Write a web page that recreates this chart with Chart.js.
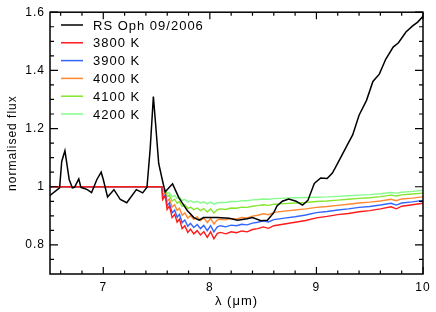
<!DOCTYPE html>
<html>
<head>
<meta charset="utf-8">
<script src="https://cdn.jsdelivr.net/npm/chart.js@4"></script>
<style>
  html, body { margin: 0; padding: 0; background: #fff; }
  canvas { display: block; }
</style>
</head>
<body>
<canvas id="fluxChart" width="436" height="312"></canvas>
<script>
// observed spectrum, RS Oph 09/2006
const obsX = [6.50, 6.59, 6.61, 6.64, 6.68, 6.71, 6.73, 6.77, 6.79, 6.85, 6.89, 6.94, 6.98, 7.00, 7.04, 7.10, 7.16, 7.22,
  7.31, 7.37, 7.41, 7.44, 7.47, 7.49, 7.52, 7.55, 7.58, 7.65, 7.71, 7.79, 7.85, 7.90, 7.94, 8.07, 8.18, 8.26, 8.35,
  8.40, 8.48, 8.54, 8.60, 8.63, 8.68, 8.74, 8.81, 8.87, 8.92, 8.98, 9.04, 9.10, 9.15, 9.20, 9.29, 9.34, 9.40, 9.47,
  9.53, 9.59, 9.65, 9.72, 9.77, 9.84, 9.90, 9.95, 10.0];
const obsY = [0.970, 0.996, 1.087, 1.124, 1.025, 0.996, 0.998, 1.027, 0.998, 0.990, 0.980, 1.025, 1.050, 1.025, 0.965,
  0.990, 0.956, 0.945, 0.990, 0.979, 0.998, 1.130, 1.310, 1.220, 1.080, 1.030, 0.982, 1.010, 0.962, 0.917, 0.894,
  0.885, 0.894, 0.894, 0.892, 0.885, 0.890, 0.894, 0.883, 0.885, 0.911, 0.934, 0.950, 0.958, 0.950, 0.937, 0.953,
  1.011, 1.030, 1.028, 1.047, 1.081, 1.144, 1.178, 1.246, 1.297, 1.362, 1.387, 1.438, 1.480, 1.495, 1.532, 1.552,
  1.566, 1.586];

// model wavelength grid (shared by all models)
const modelX = [6.5, 7.55, 7.557, 7.583, 7.599, 7.62, 7.646, 7.67, 7.693, 7.715, 7.74, 7.765, 7.793, 7.818, 7.849,
  7.881, 7.912, 7.943, 7.976, 8.007, 8.038, 8.07, 8.1, 8.15, 8.2, 8.25, 8.3, 8.35, 8.4, 8.45, 8.5, 8.55, 8.6, 8.7,
  8.8, 8.9, 9.0, 9.1, 9.2, 9.3, 9.4, 9.5, 9.6, 9.7, 9.75, 9.8, 9.9, 10.0];

const model3800 = [1, 1, 0.956, 0.968, 0.922, 0.934, 0.894, 0.905, 0.878, 0.889, 0.856, 0.866, 0.843, 0.854, 0.838,
  0.849, 0.834, 0.846, 0.826, 0.845, 0.821, 0.840, 0.843, 0.838, 0.845, 0.842, 0.848, 0.845, 0.853, 0.856, 0.862,
  0.857, 0.866, 0.872, 0.878, 0.884, 0.893, 0.898, 0.904, 0.908, 0.914, 0.918, 0.924, 0.931, 0.924, 0.933, 0.938, 0.943];
const model3900 = [1, 1, 0.963, 0.973, 0.935, 0.945, 0.910, 0.920, 0.895, 0.905, 0.876, 0.886, 0.864, 0.874, 0.860,
  0.870, 0.856, 0.867, 0.849, 0.866, 0.845, 0.862, 0.866, 0.862, 0.868, 0.866, 0.871, 0.869, 0.875, 0.878, 0.883,
  0.879, 0.887, 0.892, 0.897, 0.903, 0.911, 0.915, 0.920, 0.924, 0.929, 0.932, 0.937, 0.943, 0.937, 0.944, 0.948, 0.953];
const model4000 = [1, 1, 0.972, 0.980, 0.950, 0.958, 0.930, 0.938, 0.918, 0.926, 0.902, 0.910, 0.892, 0.900, 0.888,
  0.896, 0.884, 0.893, 0.877, 0.891, 0.872, 0.886, 0.888, 0.886, 0.891, 0.889, 0.894, 0.893, 0.899, 0.902, 0.907,
  0.904, 0.912, 0.916, 0.920, 0.924, 0.929, 0.932, 0.936, 0.940, 0.944, 0.947, 0.951, 0.957, 0.952, 0.958, 0.961, 0.965];
const model4100 = [1, 1, 0.982, 0.988, 0.965, 0.971, 0.951, 0.957, 0.943, 0.949, 0.932, 0.938, 0.925, 0.930, 0.921,
  0.927, 0.918, 0.925, 0.913, 0.924, 0.910, 0.921, 0.924, 0.922, 0.927, 0.926, 0.930, 0.929, 0.933, 0.935, 0.938,
  0.936, 0.940, 0.942, 0.944, 0.946, 0.949, 0.951, 0.954, 0.957, 0.960, 0.962, 0.966, 0.971, 0.968, 0.972, 0.975, 0.978];
const model4200 = [1, 1, 0.987, 0.992, 0.976, 0.980, 0.966, 0.970, 0.960, 0.964, 0.953, 0.957, 0.948, 0.952, 0.946,
  0.950, 0.944, 0.948, 0.941, 0.947, 0.940, 0.945, 0.946, 0.946, 0.949, 0.949, 0.952, 0.952, 0.955, 0.956, 0.958,
  0.957, 0.959, 0.961, 0.962, 0.963, 0.964, 0.965, 0.967, 0.969, 0.971, 0.973, 0.976, 0.980, 0.978, 0.981, 0.984, 0.988];

const seriesLabels = ['RS Oph 09/2006', '3800 K', '3900 K', '4000 K', '4100 K', '4200 K'];
const seriesColors = ['#000000', '#ff1a1a', '#3366ff', '#ff8833', '#84e62e', '#86fc8c'];

// axis ticks
const xMajor = [7, 8, 9, 10];
const xMinor = [6.6, 6.8, 7.2, 7.4, 7.6, 7.8, 8.2, 8.4, 8.6, 8.8, 9.2, 9.4, 9.6, 9.8];
const yMajor = [0.8, 1, 1.2, 1.4, 1.6];
const yMinor = [0.75, 0.85, 0.9, 0.95, 1.05, 1.1, 1.15, 1.25, 1.3, 1.35, 1.45, 1.5, 1.55];

const FONT = 'Liberation Sans, Arial, Helvetica, sans-serif';

function toPoints(xs, ys) {
    return xs.map((x, i) => ({ x: x, y: ys[i] }));
}

const seriesData = [
    toPoints(obsX, obsY),
    toPoints(modelX, model3800),
    toPoints(modelX, model3900),
    toPoints(modelX, model4000),
    toPoints(modelX, model4100),
    toPoints(modelX, model4200)
];

// letter spacing for the whole frame
const spacingPlugin = {
    id: 'spacing',
    beforeDraw(chart) {
        chart.ctx.letterSpacing = '1px';
    },
    afterDraw(chart) {
        chart.ctx.letterSpacing = '0px';
    }
};

// box round the plot with inward ticks on all four sides
const framePlugin = {
    id: 'frame',
    afterDatasetsDraw(chart) {
        const ctx = chart.ctx;
        const { left, right, top, bottom } = chart.chartArea;
        const xs = chart.scales.x;
        const ys = chart.scales.y;
        ctx.save();
        ctx.strokeStyle = '#000';
        ctx.lineWidth = 1.5;
        ctx.strokeRect(left, top, right - left, bottom - top);

        ctx.lineWidth = 1.2;
        ctx.beginPath();
        const xTick = (v, len) => {
            const px = xs.getPixelForValue(v);
            ctx.moveTo(px, bottom); ctx.lineTo(px, bottom - len);
            ctx.moveTo(px, top); ctx.lineTo(px, top + len);
        };
        const yTick = (v, len) => {
            const py = ys.getPixelForValue(v);
            ctx.moveTo(left, py); ctx.lineTo(left + len, py);
            ctx.moveTo(right, py); ctx.lineTo(right - len, py);
        };
        xMajor.forEach(v => xTick(v, 7));
        xMinor.forEach(v => xTick(v, 3.5));
        yMajor.forEach(v => yTick(v, 8));
        yMinor.forEach(v => yTick(v, 4));
        ctx.stroke();
        ctx.restore();
    }
};

// legend drawn inside the plot, top left
const legendPlugin = {
    id: 'insideLegend',
    afterDraw(chart) {
        const ctx = chart.ctx;
        ctx.save();
        ctx.font = '13px ' + FONT;
        ctx.letterSpacing = '1px';
        ctx.textBaseline = 'middle';
        ctx.textAlign = 'left';
        seriesLabels.forEach((label, i) => {
            const y = 25 + i * 17.8;
            ctx.strokeStyle = seriesColors[i];
            ctx.lineWidth = 1.5;
            ctx.beginPath();
            ctx.moveTo(61, y);
            ctx.lineTo(83, y);
            ctx.stroke();
            ctx.fillStyle = '#000';
            ctx.fillText(label, 93, y + 1);
        });
        ctx.restore();
    }
};

function startApp() {
    const ctx = document.getElementById('fluxChart').getContext('2d');

    // first series on top: red flat segment must cover the others
    const datasets = seriesLabels.map((label, i) => ({
        label: label,
        data: seriesData[i],
        borderColor: seriesColors[i],
        backgroundColor: seriesColors[i],
        borderWidth: i === 0 ? 1.5 : 1.4,
        pointRadius: 0,
        tension: 0,
        fill: false
    }));

    new Chart(ctx, {
        type: 'line',
        data: { datasets: datasets },
        options: {
            responsive: false,
            animation: false,
            layout: { padding: { top: 8, right: 13, left: 0, bottom: 0 } },
            plugins: {
                legend: { display: false },
                tooltip: { enabled: false }
            },
            scales: {
                x: {
                    type: 'linear',
                    min: 6.5,
                    max: 10,
                    afterBuildTicks: scale => { scale.ticks = xMajor.map(v => ({ value: v })); },
                    afterFit: scale => { scale.height = 38; },
                    grid: { display: false, drawTicks: false, tickLength: 0 },
                    border: { display: false },
                    ticks: {
                        color: '#000',
                        font: { family: FONT, size: 12 },
                        padding: 6,
                        maxRotation: 0,
                        autoSkip: false,
                        callback: v => String(v)
                    },
                    title: {
                        display: true,
                        text: 'λ (μm)',
                        color: '#000',
                        font: { family: FONT, size: 13 },
                        padding: { top: 0, bottom: 3 }
                    }
                },
                y: {
                    min: 0.7,
                    max: 1.6,
                    afterBuildTicks: scale => { scale.ticks = yMajor.map(v => ({ value: v })); },
                    afterFit: scale => { scale.width = 50; },
                    grid: { display: false, drawTicks: false, tickLength: 0 },
                    border: { display: false },
                    ticks: {
                        color: '#000',
                        font: { family: FONT, size: 12 },
                        padding: 5,
                        autoSkip: false,
                        callback: v => String(v)
                    },
                    title: {
                        display: true,
                        text: 'normalised flux',
                        color: '#000',
                        font: { family: FONT, size: 12 },
                        padding: { top: 5, bottom: 0 }
                    }
                }
            }
        },
        plugins: [spacingPlugin, framePlugin, legendPlugin]
    });
}

window.onload = startApp;
</script>
</body>
</html>
